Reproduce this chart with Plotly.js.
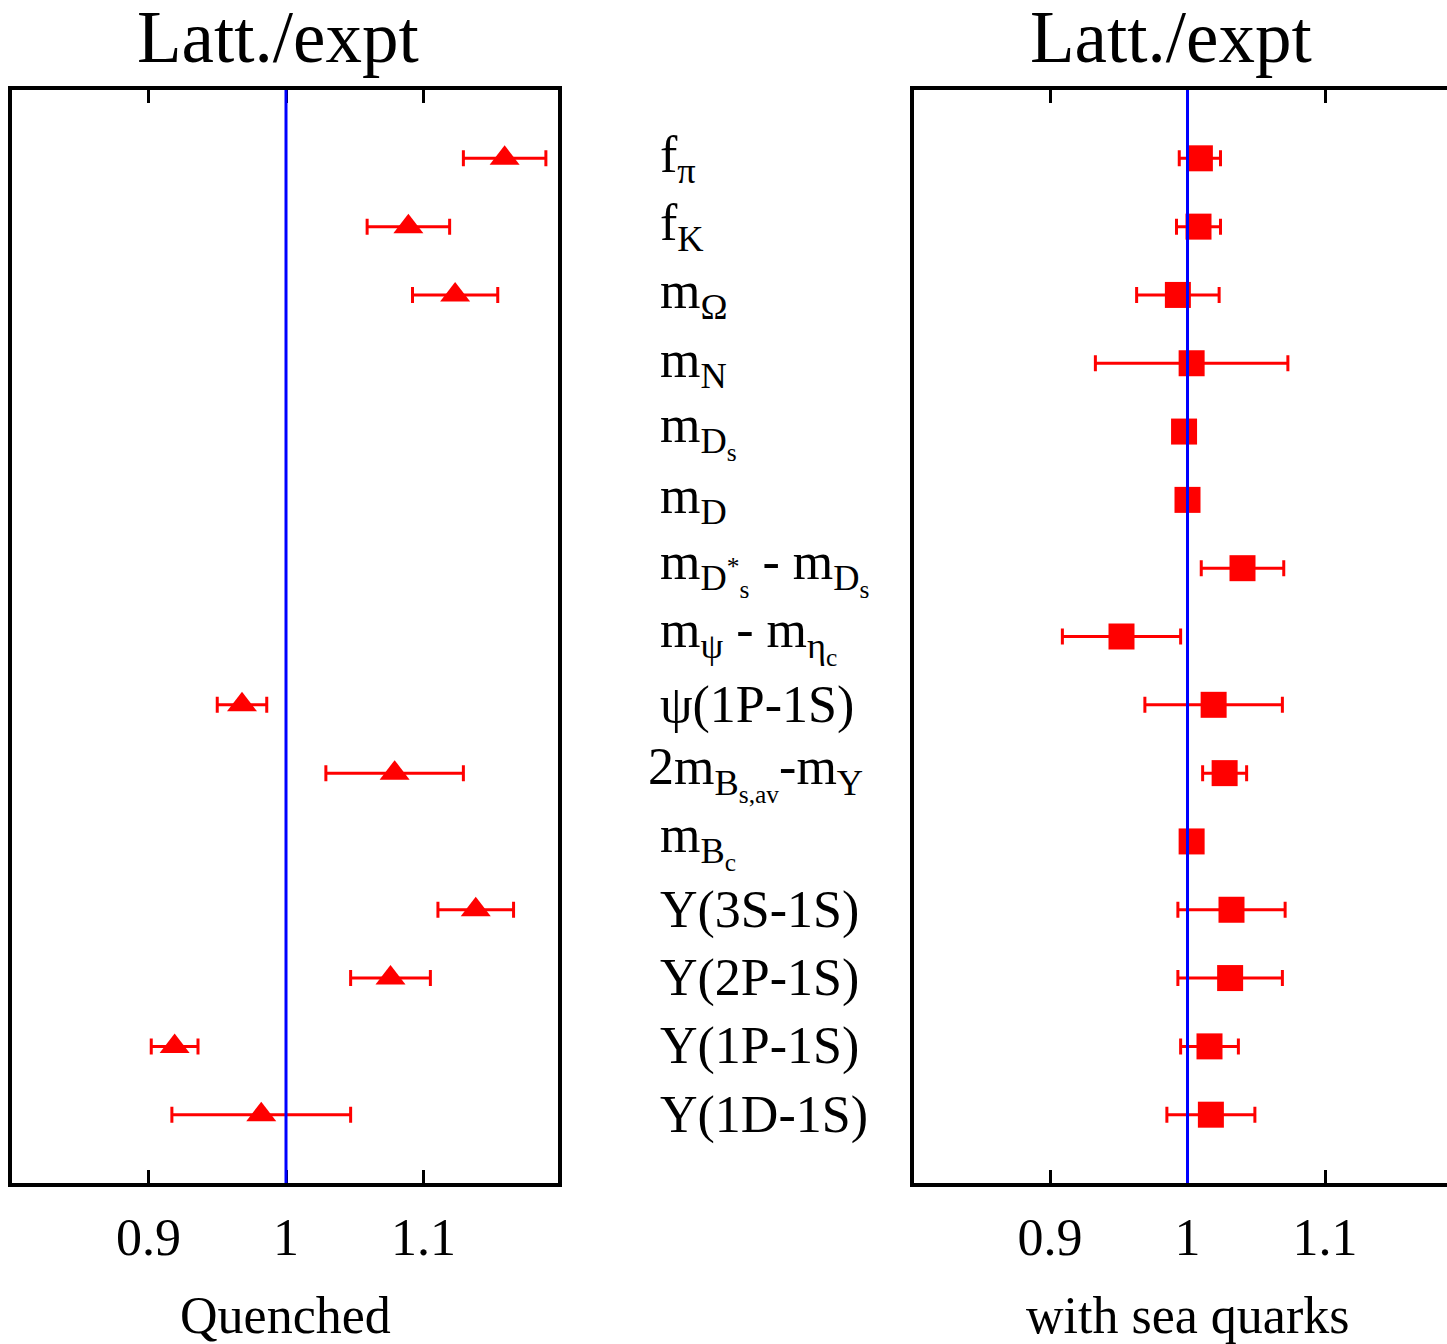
<!DOCTYPE html>
<html>
<head>
<meta charset="utf-8">
<script src="https://cdn.plot.ly/plotly-3.0.1.min.js"></script>
<style>
  html, body { margin: 0; padding: 0; background: #fff; overflow: hidden; }
  #chart { width: 1447px; height: 1344px; }
</style>
</head>
<body>
<div id="chart"></div>
<script>
// ---- data ----
const labels = [
  "f<sub>π</sub>",
  "f<sub>K</sub>",
  "m<sub>Ω</sub>",
  "m<sub>N</sub>",
  "m<sub>D<sub>s</sub></sub>",
  "m<sub>D</sub>",
  "m<sub>D<sup>*</sup><sub>s</sub></sub> - m<sub>D<sub>s</sub></sub>",
  "m<sub>ψ</sub> - m<sub>η<sub>c</sub></sub>",
  "ψ(1P-1S)",
  "2m<sub>B<sub>s,av</sub></sub>-m<sub>Y</sub>",
  "m<sub>B<sub>c</sub></sub>",
  "Y(3S-1S)",
  "Y(2P-1S)",
  "Y(1P-1S)",
  "Y(1D-1S)"
];
const rowIndex = [0,1,2,3,4,5,6,7,8,9,10,11,12,13,14];

const quenched    = [1.159, 1.089, 1.123, null, null, null, null, null, 0.968, 1.079, null, 1.138, 1.076, 0.919, 0.982];
const quenchedErr = [0.030, 0.030, 0.031, null, null, null, null, null, 0.018, 0.050, null, 0.0275, 0.029, 0.017, 0.065];

const sea    = [1.009, 1.008, 0.993, 1.003, 0.9975, 1.000, 1.040, 0.952, 1.019, 1.027, 1.003, 1.032, 1.031, 1.016, 1.017];
const seaErr = [0.015, 0.016, 0.030, 0.070, 0.003, 0.003, 0.030, 0.043, 0.050, 0.016, 0.003, 0.039, 0.038, 0.021, 0.032];

const tickVals  = [0.9, 1, 1.1];
const tickTexts = ["0.9", "1", "1.1"];
const panelTitle = "Latt./expt";
const leftAxisTitle = "Quenched";
const rightAxisTitle = "with sea quarks";

// ---- layout geometry (pixels) ----
const W = 1447, H = 1344;
const mT = 90, mB = 161;
const plotH = H - mT - mB;
const pxPerUnit = 1375;
const L0 = 12, L1 = 558, Lc = 286;     // left panel plot area, x=1 position
const R0 = 914, R1 = 1447, Rc = 1187.5; // right panel
const px2paperX = p => p / W;
const px2paperY = p => (H - mB - p) / plotH;
const FONT = "Liberation Serif, Times New Roman, serif";

const red = "#ff0000";

const traces = [
  {
    x: quenched, y: rowIndex, xaxis: "x", yaxis: "y",
    type: "scatter", mode: "markers",
    marker: { symbol: "triangle-up", size: 26, color: red, line: { width: 0 } },
    error_x: { type: "data", array: quenchedErr, visible: true, color: red, thickness: 3, width: 8 },
    hoverinfo: "skip", showlegend: false
  },
  {
    x: sea, y: rowIndex, xaxis: "x2", yaxis: "y2",
    type: "scatter", mode: "markers",
    marker: { symbol: "square", size: 26, color: red, line: { width: 0 } },
    error_x: { type: "data", array: seaErr, visible: true, color: red, thickness: 3, width: 8 },
    hoverinfo: "skip", showlegend: false
  }
];

function xAxis(domain, range) {
  return {
    domain: domain, range: range,
    tickvals: tickVals, ticktext: tickTexts,
    ticks: "inside", ticklen: 13, tickwidth: 3, tickcolor: "#000",
    showline: true, linewidth: 4, linecolor: "#000", mirror: "ticks",
    showgrid: false, zeroline: false,
    tickfont: { family: FONT, size: 52, color: "#000" },
    ticklabelstandoff: 6,
    fixedrange: true
  };
}
function yAxis(mirror) {
  return {
    domain: [0, 1], range: [15, -1],
    showticklabels: false, ticks: "",
    showline: true, linewidth: 4, linecolor: "#000", mirror: mirror,
    showgrid: false, zeroline: false, fixedrange: true
  };
}

const annotations = [];
labels.forEach((t, i) => {
  annotations.push({
    text: t, xref: "paper", yref: "y", x: px2paperX(658), y: rowIndex[i],
    xanchor: "left", yanchor: "middle", showarrow: false,
    xshift: i === 9 ? -12 : 0,
    font: { family: FONT, size: 52, color: "#000" }
  });
});
[[278, panelTitle], [1171, panelTitle]].forEach(([px, t]) => {
  annotations.push({
    text: t, xref: "paper", yref: "paper", x: px2paperX(px), y: px2paperY(37.5),
    xanchor: "center", yanchor: "middle", showarrow: false,
    font: { family: FONT, size: 73, color: "#000" }
  });
});
[[285, leftAxisTitle], [1187, rightAxisTitle]].forEach(([px, t]) => {
  annotations.push({
    text: t, xref: "paper", yref: "paper", x: px2paperX(px), y: px2paperY(1315.5),
    xanchor: "center", yanchor: "middle", showarrow: false,
    font: { family: FONT, size: 52, color: "#000" }
  });
});

const layout = {
  width: W, height: H,
  margin: { l: 0, r: 0, t: mT, b: mB, pad: 0 },
  paper_bgcolor: "#fff", plot_bgcolor: "#fff",
  showlegend: false,
  xaxis: xAxis([L0 / W, L1 / W], [1 - (Lc - L0) / pxPerUnit, 1 + (L1 - Lc) / pxPerUnit]),
  xaxis2: xAxis([R0 / W, 1], [1 - (Rc - R0) / pxPerUnit, 1 + (R1 - Rc) / pxPerUnit]),
  yaxis: Object.assign(yAxis(true), { anchor: "x" }),
  yaxis2: Object.assign(yAxis(false), { anchor: "x2" }),
  shapes: [
    { type: "line", xref: "x", yref: "y domain", x0: 1, x1: 1, y0: 0, y1: 1, line: { color: "#0000ff", width: 3 }, layer: "above" },
    { type: "line", xref: "x2", yref: "y2 domain", x0: 1, x1: 1, y0: 0, y1: 1, line: { color: "#0000ff", width: 3 }, layer: "above" }
  ],
  annotations: annotations
};
layout.xaxis.anchor = "y";
layout.xaxis2.anchor = "y2";

Plotly.newPlot("chart", traces, layout, { staticPlot: true, displayModeBar: false });
</script>
</body>
</html>
